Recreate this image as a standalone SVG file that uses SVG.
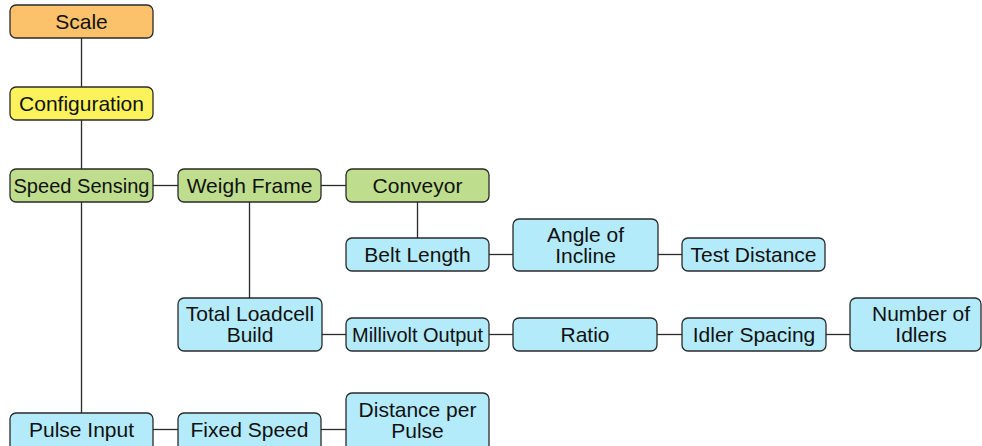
<svg xmlns="http://www.w3.org/2000/svg" width="982" height="446" viewBox="0 0 982 446">
<style>
rect{stroke:#2a2a2a;stroke-width:1.3}
.o{fill:#FCC26B}.y{fill:#FCF35C}.g{fill:#BEDE8E}.b{fill:#B4EBFB}
text{font-family:"Liberation Sans",Arial,sans-serif;font-size:21px;fill:#111;text-anchor:middle}
#connectors line{stroke:#2a2a2a;stroke-width:1.3}
</style>
<rect width="982" height="446" fill="#fff" style="stroke:none"/>
<g id="connectors">
<line x1="81.5" y1="38" x2="81.5" y2="87"/>
<line x1="81.5" y1="120" x2="81.5" y2="169"/>
<line x1="81.5" y1="202" x2="81.5" y2="413"/>
<line x1="153" y1="185.5" x2="178" y2="185.5"/>
<line x1="321" y1="185.5" x2="346" y2="185.5"/>
<line x1="249.5" y1="202" x2="249.5" y2="298"/>
<line x1="417.5" y1="202" x2="417.5" y2="238"/>
<line x1="489" y1="254.5" x2="513" y2="254.5"/>
<line x1="658" y1="254.5" x2="682" y2="254.5"/>
<line x1="322" y1="334.5" x2="346" y2="334.5"/>
<line x1="489" y1="334.5" x2="513" y2="334.5"/>
<line x1="657" y1="334.5" x2="682" y2="334.5"/>
<line x1="826" y1="334.5" x2="850" y2="334.5"/>
<line x1="153" y1="429.5" x2="178" y2="429.5"/>
<line x1="321" y1="429.5" x2="346" y2="429.5"/>
</g>
<g id="scale"><rect class="o" x="10" y="5" width="143" height="33" rx="6"/><text x="81.5" y="28.5">Scale</text></g>
<g id="configuration"><rect class="y" x="10" y="87" width="143" height="33" rx="6"/><text x="81.5" y="110.5">Configuration</text></g>
<g id="speed-sensing"><rect class="g" x="10" y="169" width="143" height="33" rx="6"/><text x="81.5" y="192.5" textLength="136" lengthAdjust="spacingAndGlyphs">Speed Sensing</text></g>
<g id="weigh-frame"><rect class="g" x="178" y="169" width="143" height="33" rx="6"/><text x="249.5" y="192.5">Weigh Frame</text></g>
<g id="conveyor"><rect class="g" x="346" y="169" width="143" height="33" rx="6"/><text x="417.5" y="192.5">Conveyor</text></g>
<g id="belt-length"><rect class="b" x="346" y="238" width="143" height="33" rx="6"/><text x="417.5" y="261.5">Belt Length</text></g>
<g id="angle-of-incline"><rect class="b" x="513" y="219" width="145" height="52" rx="6"/><text x="585.5" y="241.5">Angle of</text><text x="585.5" y="262.5">Incline</text></g>
<g id="test-distance"><rect class="b" x="682" y="238" width="143" height="33" rx="6"/><text x="753.5" y="261.5">Test Distance</text></g>
<g id="total-loadcell-build"><rect class="b" x="178" y="298" width="144" height="53" rx="6"/><text x="250" y="321">Total Loadcell</text><text x="250" y="342">Build</text></g>
<g id="millivolt-output"><rect class="b" x="346" y="318" width="143" height="33" rx="6"/><text x="417.5" y="341.5" textLength="131" lengthAdjust="spacingAndGlyphs">Millivolt Output</text></g>
<g id="ratio"><rect class="b" x="513" y="318" width="144" height="33" rx="6"/><text x="585" y="341.5">Ratio</text></g>
<g id="idler-spacing"><rect class="b" x="682" y="318" width="144" height="33" rx="6"/><text x="754" y="341.5">Idler Spacing</text></g>
<g id="number-of-idlers"><rect class="b" x="850" y="298" width="131" height="53" rx="6"/><text x="921" y="321">Number of</text><text x="921" y="342">Idlers</text></g>
<g id="pulse-input"><rect class="b" x="10" y="413" width="143" height="40" rx="6"/><text x="81.5" y="436.5">Pulse Input</text></g>
<g id="fixed-speed"><rect class="b" x="178" y="413" width="143" height="40" rx="6"/><text x="249.5" y="436.5">Fixed Speed</text></g>
<g id="distance-per-pulse"><rect class="b" x="346" y="393" width="143" height="60" rx="6"/><text x="417.5" y="416.5">Distance per</text><text x="417.5" y="437.5">Pulse</text></g>
</svg>
